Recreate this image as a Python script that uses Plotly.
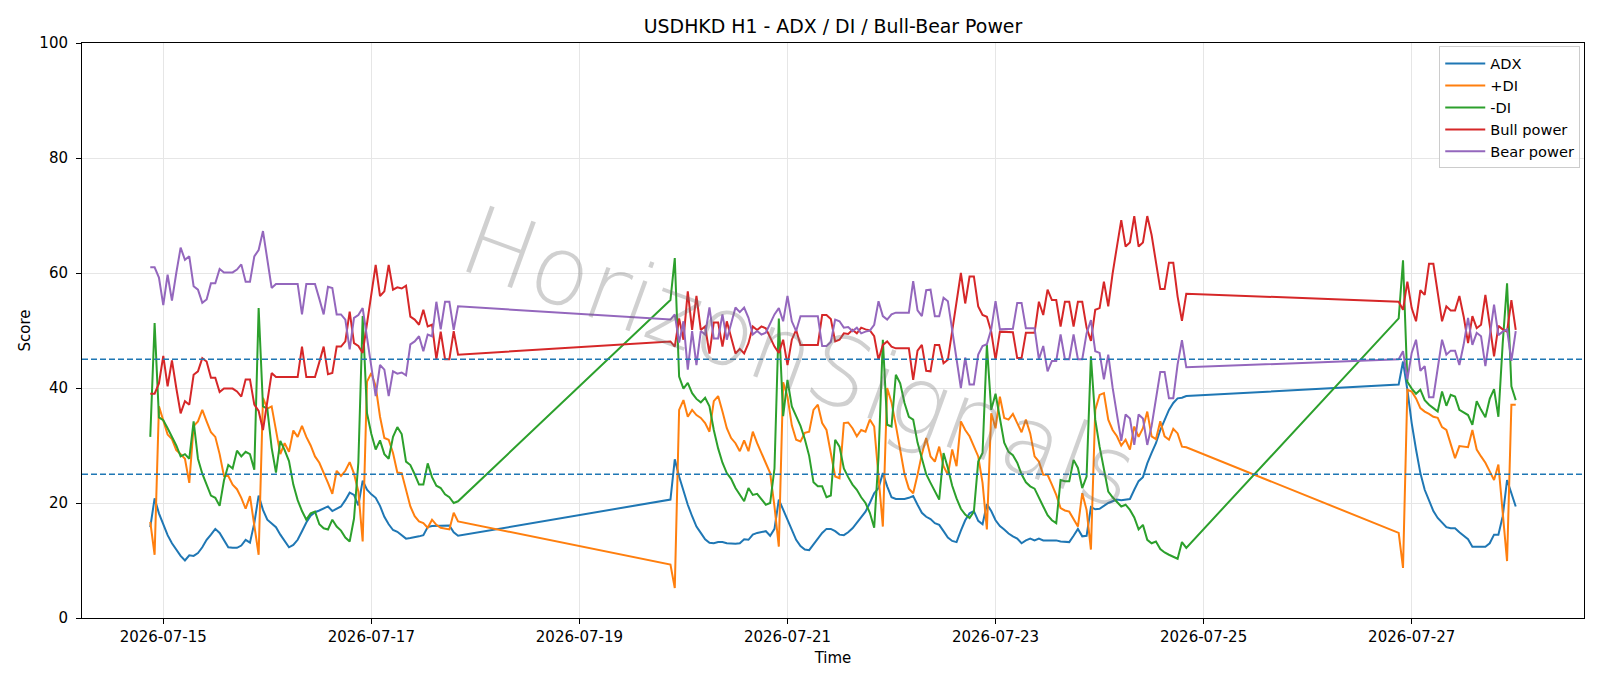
import pandas as pd
import plotly.graph_objects as go

# ---------------- data ----------------
SEG_STARTS = ["2026-07-14 21:00", "2026-07-19 21:00", "2026-07-26 21:00"]
SEG_LENGTHS = [72, 120, 28]

adx = [
    15.8, 20.8, 18.2, 16.2, 14.4, 13.0, 11.8, 10.8, 10.0, 10.9,
    10.8, 11.3, 12.3, 13.6, 14.5, 15.5, 14.8, 13.5, 12.3, 12.2,
    12.2, 12.6, 13.6, 13.1, 16.5, 21.3, 18.8, 17.1, 16.5, 15.8,
    14.5, 13.3, 12.3, 12.7, 13.6, 15.1, 16.6, 17.8, 18.4, 18.7,
    19.1, 19.4, 18.6, 19.0, 19.4, 20.5, 21.8, 21.4, 19.6, 23.9,
    22.3, 21.5, 20.9, 19.5, 17.6, 16.3, 15.3, 15.0, 14.4, 13.8,
    13.9, 14.0, 14.2, 14.4, 15.8, 16.0, 16.0, 16.0, 16.0, 16.1,
    14.9, 14.3,
    20.6, 27.6, 24.6, 22.0, 19.7, 17.7, 15.9, 14.8, 13.7, 13.1,
    13.0, 13.2, 13.2, 13.0, 12.9, 12.9, 13.0, 13.7, 13.6, 14.5,
    14.8, 14.9, 15.1, 14.3, 15.5, 20.6, 18.8, 17.1, 15.4, 13.6,
    12.5, 11.9, 11.8, 12.8, 13.9, 14.8, 15.5, 15.5, 15.1, 14.5,
    14.4, 14.9, 15.6, 16.5, 17.4, 18.5, 20.0, 21.7, 22.6, 25.2,
    22.9, 21.0, 20.7, 20.7, 20.7, 20.9, 21.2, 19.7, 18.3, 17.6,
    17.2, 16.5, 16.2, 15.1, 14.0, 13.4, 13.2, 15.2, 17.0, 18.2,
    18.6, 16.9, 16.3, 19.8, 18.6, 17.0, 16.0, 15.4, 14.7, 14.2,
    13.8, 13.0, 13.5, 13.8, 13.5, 13.8, 13.5, 13.5, 13.5, 13.5,
    13.3, 13.2, 13.2, 14.3, 15.5, 14.2, 14.3, 19.3, 18.9, 19.0,
    19.5, 20.0, 20.3, 20.6, 20.5, 20.6, 20.7, 22.3, 23.8, 24.5,
    26.9, 28.7, 30.4, 32.7, 34.5, 36.2, 37.4, 38.2, 38.3, 38.6,
    40.6, 44.6, 39.7, 33.9, 29.3, 25.2, 22.3, 20.3, 18.6, 17.4,
    16.5, 15.8, 15.6, 15.6, 14.9, 14.3, 13.7, 12.4, 12.4, 12.4,
    12.4, 13.0, 14.5, 14.5, 17.7, 24.0, 21.7, 19.4,
]

plus_di = [
    16.7, 11.0, 36.8, 34.2, 31.9, 31.1, 29.2, 28.5, 27.7, 23.5,
    33.4, 34.2, 36.2, 34.2, 32.3, 31.5, 28.5, 24.7, 24.7, 23.2,
    22.4, 20.9, 19.0, 21.2, 16.3, 11.0, 38.3, 36.4, 36.8, 32.3,
    28.5, 30.4, 28.9, 32.6, 31.5, 33.4, 31.5, 30.0, 28.1, 27.0,
    25.4, 23.5, 21.6, 25.6, 24.7, 25.6, 27.1, 25.1, 22.0, 13.3,
    41.1, 42.6, 40.3, 35.0, 31.3, 31.0, 28.7, 25.3, 25.2, 22.3,
    19.4, 17.7, 16.8, 16.5, 15.7, 17.1, 16.2, 15.7, 15.5, 15.4,
    18.3, 16.8,
    9.3, 5.2, 36.2, 37.9, 35.0, 36.2, 35.3, 34.8, 33.9, 32.4,
    37.7, 38.6, 35.9, 33.0, 31.3, 30.4, 29.0, 30.9, 29.0, 32.4,
    30.4, 28.7, 27.2, 25.2, 19.4, 12.4, 41.0, 38.5, 33.5, 31.0,
    30.7, 32.2, 32.4, 36.2, 37.1, 33.9, 32.7, 28.7, 24.6, 24.3,
    33.9, 34.0, 33.0, 31.6, 32.7, 32.4, 34.5, 33.3, 24.0, 15.9,
    40.0, 37.5, 33.5, 29.3, 25.0, 22.5, 21.7, 24.9, 28.5, 31.3,
    28.1, 27.2, 29.8, 26.4, 24.9, 29.3, 26.4, 34.2, 32.7, 31.6,
    29.8, 28.1, 23.5, 15.4, 35.6, 33.0, 38.5, 34.8, 34.5, 35.5,
    33.9, 32.3, 34.5, 32.1, 28.1, 27.2, 24.9, 24.9, 23.2, 21.4,
    19.1, 18.7, 18.5, 17.1, 15.9, 21.7, 18.8, 11.9, 36.2, 38.8,
    39.1, 34.5, 32.7, 31.6, 30.0, 31.0, 29.3, 33.3, 31.5, 33.0,
    35.9, 31.6, 31.1, 34.2, 31.6, 31.0, 32.9, 32.1, 29.8, 29.7,
    14.8, 8.7, 39.7, 39.4, 38.2, 36.5, 35.9, 35.5, 35.0, 34.8,
    33.2, 32.7, 30.1, 27.8, 29.9, 29.8, 29.7, 32.7, 29.3, 28.1,
    27.0, 25.5, 24.0, 26.7, 17.7, 9.9, 37.1, 37.1,
]

minus_di = [
    31.5, 51.3, 34.9, 34.4, 33.0, 31.5, 30.0, 28.1, 28.5, 27.7,
    34.2, 27.7, 25.1, 23.2, 21.3, 20.9, 19.5, 23.9, 26.6, 26.0,
    29.1, 28.1, 28.9, 28.5, 25.8, 53.9, 36.8, 36.4, 29.6, 25.3,
    30.8, 29.2, 27.3, 23.2, 20.5, 18.6, 17.1, 18.2, 18.5, 16.3,
    15.6, 15.4, 17.1, 15.9, 15.2, 14.0, 13.3, 17.3, 27.0, 52.5,
    35.6, 32.0, 29.3, 30.9, 28.5, 27.7, 31.5, 33.2, 32.0, 27.2,
    26.6, 25.0, 23.2, 23.2, 26.9, 24.5, 23.0, 22.6, 21.5, 21.0,
    20.0, 20.3,
    55.3, 62.6, 42.0, 39.9, 40.9, 39.1, 38.1, 37.5, 38.3, 36.8,
    32.7, 29.5, 27.0, 25.2, 24.2, 22.6, 21.4, 20.3, 22.6, 21.4,
    21.6, 20.6, 19.7, 20.0, 26.0, 52.1, 35.1, 41.4, 36.8, 35.1,
    33.4, 31.1, 28.2, 23.6, 22.9, 22.9, 21.0, 21.3, 31.0, 29.8,
    26.0, 24.5, 23.2, 22.3, 21.0, 20.0, 18.3, 15.7, 28.0, 48.4,
    33.6, 33.3, 42.3, 40.8, 37.4, 35.0, 34.5, 30.5, 27.5, 25.0,
    23.5, 22.0, 20.6, 28.7, 26.1, 23.0, 20.8, 19.0, 18.0, 17.4,
    18.5, 27.2, 28.7, 47.5, 36.2, 39.0, 34.5, 30.5, 28.9, 28.3,
    27.0, 25.0, 23.6, 22.9, 22.5, 20.8, 19.4, 17.9, 17.0, 16.5,
    24.0, 23.8, 23.8, 27.5, 26.1, 22.6, 24.6, 45.5, 34.5, 29.8,
    26.0, 22.0, 21.0, 20.2, 19.4, 19.7, 18.8, 17.5, 15.4, 16.2,
    13.6, 13.0, 13.3, 12.0, 11.4, 11.0, 10.7, 10.3, 13.2, 12.2,
    52.1, 62.2, 41.1, 39.9, 39.0, 39.7, 37.9, 37.1, 36.5, 35.9,
    39.4, 36.9, 38.8, 38.5, 36.2, 35.8, 35.3, 33.6, 37.7, 36.2,
    34.9, 38.1, 39.8, 35.0, 47.8, 58.2, 40.3, 37.9,
]

bull_power = [
    39.0, 39.0, 40.8, 45.6, 40.3, 44.8, 40.0, 35.6, 37.7, 37.1,
    42.3, 42.9, 45.2, 44.6, 41.8, 41.8, 39.3, 39.9, 39.9, 39.9,
    39.4, 38.5, 41.5, 41.5, 37.1, 36.0, 32.7, 37.5, 42.6, 41.9,
    41.9, 41.9, 41.9, 41.9, 41.9, 47.2, 41.9, 41.9, 41.9, 44.5,
    47.2, 42.4, 42.6, 47.2, 47.2, 48.1, 53.3, 47.8, 47.3, 46.1,
    51.3, 56.5, 61.4, 56.0, 56.8, 61.4, 57.1, 57.5, 57.3, 57.8,
    52.4, 51.9, 51.0, 53.6, 50.7, 51.0, 45.0, 49.8, 45.0, 45.0,
    49.9, 45.8,
    48.1, 47.2, 52.1, 48.4, 56.8, 50.1, 56.0, 50.1, 50.7, 46.0,
    51.4, 51.4, 47.2, 51.6, 48.7, 46.0, 46.8, 46.0, 47.8, 50.7,
    50.1, 50.7, 50.4, 48.7, 47.2, 46.1, 48.4, 44.0, 48.4, 50.1,
    47.5, 47.5, 47.5, 47.5, 47.5, 52.7, 52.7, 52.0, 48.1, 48.4,
    49.5, 49.4, 50.1, 49.5, 50.5, 50.2, 50.0, 49.0, 44.9, 47.5,
    48.1, 47.2, 46.9, 46.9, 46.9, 46.9, 41.4, 46.5, 47.5, 43.0,
    42.9, 47.5, 47.5, 44.3, 44.9, 50.1, 54.7, 60.0, 54.7, 59.4,
    59.4, 54.2, 52.7, 52.4, 49.8, 44.9, 49.8, 49.8, 49.8, 49.7,
    45.2, 45.2, 49.6, 49.6, 49.6, 55.0, 52.7, 57.1, 55.3, 55.3,
    50.7, 55.0, 55.0, 50.7, 55.0, 55.0, 50.5, 48.2, 53.6, 53.9,
    58.5, 54.2, 59.9, 64.6, 69.2, 64.6, 65.3, 69.9, 64.6, 65.3,
    69.9, 66.6, 62.0, 57.2, 57.2, 61.8, 61.8, 55.9, 51.7, 56.4,
    55.0, 53.6, 58.5, 53.9, 51.6, 57.0, 56.2, 61.6, 61.6, 56.5,
    51.6, 54.2, 53.5, 53.5, 56.0, 52.4, 47.8, 52.5, 50.4, 51.0,
    56.2, 51.0, 45.5, 50.8, 50.2, 49.8, 55.3, 50.1,
]

bear_power = [
    61.0, 61.0, 59.2, 54.4, 59.7, 55.2, 60.0, 64.4, 62.3, 62.9,
    57.7, 57.1, 54.8, 55.4, 58.2, 58.2, 60.7, 60.1, 60.1, 60.1,
    60.6, 61.5, 58.5, 58.5, 62.9, 64.0, 67.3, 62.5, 57.4, 58.1,
    58.1, 58.1, 58.1, 58.1, 58.1, 52.8, 58.1, 58.1, 58.1, 55.5,
    52.8, 57.6, 57.4, 52.8, 52.8, 51.9, 46.7, 52.2, 52.7, 53.9,
    48.7, 43.5, 38.6, 44.0, 43.2, 38.6, 42.9, 42.5, 42.7, 42.2,
    47.6, 48.1, 49.0, 46.4, 49.3, 49.0, 55.0, 50.2, 55.0, 55.0,
    50.1, 54.2,
    51.9, 52.8, 47.9, 51.6, 43.2, 49.9, 44.0, 49.9, 49.3, 54.0,
    48.6, 48.6, 52.8, 48.4, 51.3, 54.0, 53.2, 54.0, 52.2, 49.3,
    49.9, 49.3, 49.6, 51.3, 52.8, 53.9, 51.6, 56.0, 51.6, 49.9,
    52.5, 52.5, 52.5, 52.5, 52.5, 47.3, 47.3, 48.0, 51.9, 51.6,
    50.5, 50.6, 49.9, 50.5, 49.5, 49.8, 50.0, 51.0, 55.1, 52.5,
    51.9, 52.8, 53.1, 53.1, 53.1, 53.1, 58.6, 53.5, 52.5, 57.0,
    57.1, 52.5, 52.5, 55.7, 55.1, 49.9, 45.3, 40.0, 45.3, 40.6,
    40.6, 45.8, 47.3, 47.6, 50.2, 55.1, 50.2, 50.2, 50.2, 50.3,
    54.8, 54.8, 50.4, 50.4, 50.4, 45.0, 47.3, 42.9, 44.7, 44.7,
    49.3, 45.0, 45.0, 49.3, 45.0, 45.0, 49.5, 51.8, 46.4, 46.1,
    41.5, 45.8, 40.1, 35.4, 30.8, 35.4, 34.7, 30.1, 35.4, 34.7,
    30.1, 33.4, 38.0, 42.8, 42.8, 38.2, 38.2, 44.1, 48.3, 43.6,
    45.0, 46.4, 41.5, 46.1, 48.4, 43.0, 43.8, 38.4, 38.4, 43.5,
    48.4, 45.8, 46.5, 46.5, 44.0, 47.6, 52.2, 47.5, 49.6, 49.0,
    43.8, 49.0, 54.5, 49.2, 49.8, 50.2, 44.7, 49.9,
]

THRESHOLDS = [25, 45]
Y_TICKS = [0, 20, 40, 60, 80, 100]
X_TICKS = ["2026-07-15", "2026-07-17", "2026-07-19", "2026-07-21",
           "2026-07-23", "2026-07-25", "2026-07-27"]

# ---------------- figure ----------------
times = pd.DatetimeIndex([])
for start, n in zip(SEG_STARTS, SEG_LENGTHS):
    times = times.append(pd.date_range(start, periods=n, freq="h"))

series = [
    ("ADX", adx, "#1f77b4"),
    ("+DI", plus_di, "#ff7f0e"),
    ("-DI", minus_di, "#2ca02c"),
    ("Bull power", bull_power, "#d62728"),
    ("Bear power", bear_power, "#9467bd"),
]

FONT = "DejaVu Sans"
FS = 15
fig = go.Figure()
for name, vals, col in series:
    fig.add_trace(go.Scatter(
        x=times, y=vals, mode="lines", name=name,
        line=dict(color=col, width=2),
    ))

for t in THRESHOLDS:
    fig.add_shape(type="line", xref="paper", x0=0, x1=1, yref="y", y0=t, y1=t,
                  line=dict(color="#1f77b4", width=1.3, dash="6px,3px"), layer="above")

fig.add_annotation(
    text="HorizonSignals", xref="paper", yref="paper", x=0.478, y=0.452,
    showarrow=False, textangle=20,
    font=dict(family="DejaVu Sans", size=96, color="rgba(110,110,110,0.32)", weight=200),
)

axis_common = dict(
    showgrid=True, gridcolor="#e6e6e6", gridwidth=1,
    showline=True, linecolor="#000000", linewidth=1, mirror=True,
    ticks="outside", ticklen=5, tickwidth=1, tickcolor="#000000",
    tickfont=dict(family=FONT, size=FS, color="#000000"),
    zeroline=False, automargin=False,
)

fig.update_layout(
    width=1600, height=686,
    paper_bgcolor="white", plot_bgcolor="white",
    margin=dict(l=82, r=16, t=43, b=68),
    font=dict(family=FONT, color="#000000"),
    title=dict(text="USDHKD H1 - ADX / DI / Bull-Bear Power", x=0.5, xref="paper",
               xanchor="center", y=1 - 26.5 / 686, yanchor="middle",
               font=dict(family=FONT, size=18.9, color="#000000")),
    xaxis=dict(
        type="date", range=["2026-07-14 05:15", "2026-07-28 15:45"],
        tickvals=X_TICKS, ticktext=X_TICKS,
        title=dict(text="Time", standoff=7, font=dict(family=FONT, size=FS)),
        **axis_common,
    ),
    yaxis=dict(
        range=[0, 100], tickvals=Y_TICKS, ticklabelstandoff=5,
        title=dict(text="Score", standoff=5, font=dict(family=FONT, size=FS)),
        **axis_common,
    ),
    legend=dict(
        x=0.9975, y=0.994, xanchor="right", yanchor="top",
        bgcolor="rgba(255,255,255,0.8)", bordercolor="#cccccc", borderwidth=1,
        font=dict(family=FONT, size=14.6, color="#000000"),
        itemwidth=40,
    ),
    showlegend=True,
)

fig.write_html("out.html")
